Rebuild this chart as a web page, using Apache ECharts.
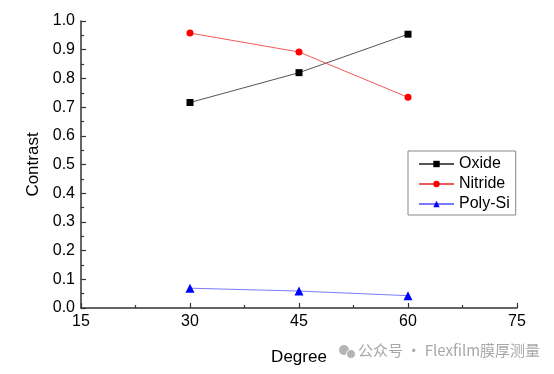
<!DOCTYPE html>
<html>
<head>
<meta charset="utf-8">
<script src="https://cdn.jsdelivr.net/npm/echarts@6/dist/echarts.min.js"></script>
<style>
html,body{margin:0;padding:0;background:#fff;}
#c{width:554px;height:374px;}
</style>
</head>
<body>
<div id="c"></div>
<script>
var degrees = [30, 45, 60];
var oxide = [0.716, 0.820, 0.954];
var nitride = [0.958, 0.892, 0.734];
var polySi = [0.069, 0.059, 0.043];
var xTicks = [15, 30, 45, 60, 75];
var yTicks = [0, 0.1, 0.2, 0.3, 0.4, 0.5, 0.6, 0.7, 0.8, 0.9, 1.0];

function pairs(xs, ys) { return xs.map(function (x, i) { return [x, ys[i]]; }); }

var font = 'Liberation Sans, Arial, sans-serif';
var chart = echarts.init(document.getElementById('c'), null, {renderer: 'canvas'});
chart.setOption({
  animation: false,
  backgroundColor: '#fff',
  grid: {left: 81, right: 37, top: 21, bottom: 66, containLabel: false},
  xAxis: {
    type: 'value', min: xTicks[0], max: xTicks[xTicks.length - 1], interval: 15,
    name: 'Degree', nameLocation: 'middle', nameGap: 41,
    nameTextStyle: {fontFamily: font, fontSize: 17, color: '#000'},
    axisLine: {lineStyle: {color: '#333', width: 1.5}},
    axisTick: {inside: true, length: 5, lineStyle: {color: '#333', width: 1.2}},
    minorTick: {show: true, splitNumber: 2, length: 3, lineStyle: {color: '#333', width: 1.2}},
    axisLabel: {fontFamily: font, fontSize: 16, color: '#000', margin: 6},
    splitLine: {show: false}
  },
  yAxis: {
    type: 'value', min: yTicks[0], max: yTicks[yTicks.length - 1], interval: 0.1,
    name: 'Contrast', nameLocation: 'middle', nameGap: 38, nameRotate: 90,
    nameTextStyle: {fontFamily: font, fontSize: 17, color: '#000'},
    axisLine: {show: true, lineStyle: {color: '#333', width: 1.5}},
    axisTick: {show: true, inside: true, length: 5, lineStyle: {color: '#333', width: 1.2}},
    minorTick: {show: true, splitNumber: 2, length: 3, lineStyle: {color: '#333', width: 1.2}},
    axisLabel: {fontFamily: font, fontSize: 16, color: '#000', margin: 6,
      formatter: function (v) { return v.toFixed(1); }},
    splitLine: {show: false}
  },
  legend: {
    orient: 'vertical', left: 408, top: 151,
    padding: [4, 6, 2, 10],
    itemWidth: 35, itemHeight: 8, itemGap: 2,
    borderColor: '#888', borderWidth: 1, borderRadius: 0,
    textStyle: {fontFamily: font, fontSize: 16, color: '#000', lineHeight: 18},
    data: ['Oxide', 'Nitride', 'Poly-Si']
  },
  series: [
    {name: 'Oxide', type: 'line', data: pairs(degrees, oxide),
      symbol: 'rect', symbolSize: 7,
      lineStyle: {color: '#555', width: 1},
      itemStyle: {color: '#000'}},
    {name: 'Nitride', type: 'line', data: pairs(degrees, nitride),
      symbol: 'circle', symbolSize: 7,
      lineStyle: {color: '#f05a5a', width: 1},
      itemStyle: {color: '#ff0000'}},
    {name: 'Poly-Si', type: 'line', data: pairs(degrees, polySi),
      symbol: 'triangle', symbolSize: 9,
      lineStyle: {color: '#7a7aff', width: 1},
      itemStyle: {color: '#0000ff'}}
  ],
  graphic: [
    {type: 'circle', shape: {cx: 344, cy: 350, r: 5}, style: {fill: '#b5b5b5'}},
    {type: 'circle', shape: {cx: 351, cy: 354, r: 4.5}, style: {fill: '#b5b5b5', stroke: '#fff', lineWidth: 1}},
    {type: 'text', left: 358, top: 343,
      style: {text: '公众号 · Flexfilm膜厚测量', fill: '#a8a8a8', fontSize: 15,
        fontFamily: 'Noto Sans CJK SC, sans-serif'}}
  ]
});
</script>
</body>
</html>
